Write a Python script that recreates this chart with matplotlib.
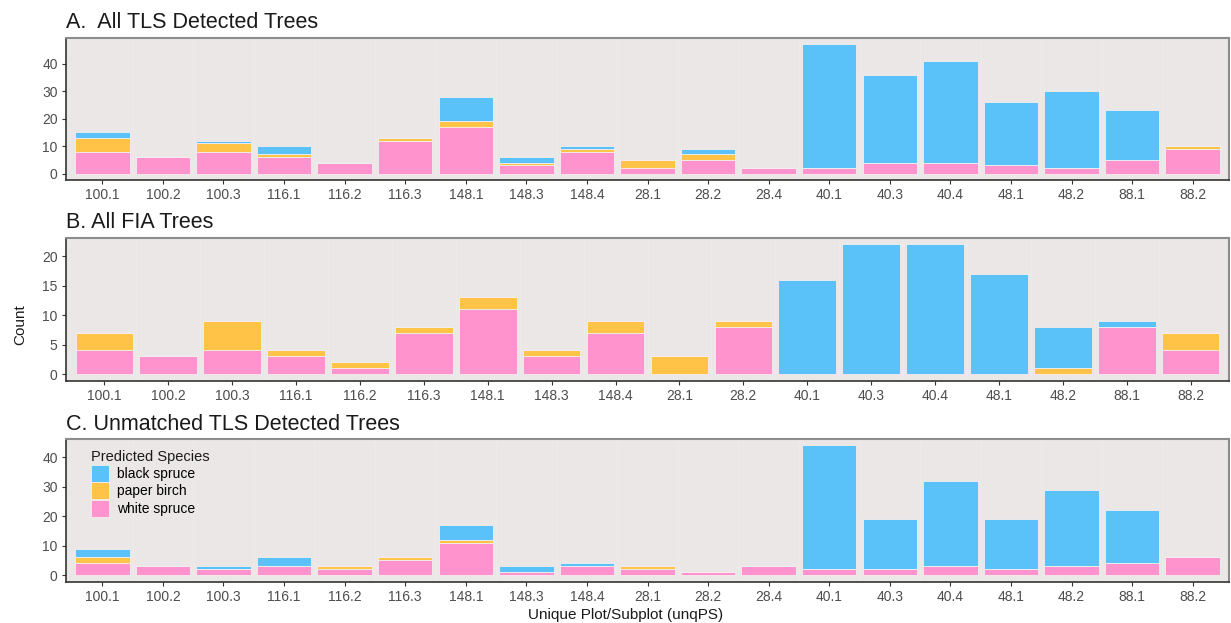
import matplotlib
matplotlib.use("Agg")
import matplotlib.pyplot as plt
import numpy as np
from matplotlib.patches import Patch

plt.rcParams["font.family"] = ["Liberation Sans", "DejaVu Sans"]

# plot/subplot ids
PLOTS_ALL = ["100.1", "100.2", "100.3", "116.1", "116.2", "116.3", "148.1", "148.3", "148.4",
             "28.1", "28.2", "28.4", "40.1", "40.3", "40.4", "48.1", "48.2", "88.1", "88.2"]
PLOTS_FIA = ["100.1", "100.2", "100.3", "116.1", "116.2", "116.3", "148.1", "148.3", "148.4",
             "28.1", "28.2", "40.1", "40.3", "40.4", "48.1", "48.2", "88.1", "88.2"]

# A. all TLS detected trees
tls_white = [8, 6, 8, 6, 4, 12, 17, 3, 8, 2, 5, 2, 2, 4, 4, 3, 2, 5, 9]
tls_birch = [5, 0, 3, 1, 0, 1, 2, 1, 1, 3, 2, 0, 0, 0, 0, 0, 0, 0, 1]
tls_black = [2, 0, 1, 3, 0, 0, 9, 2, 1, 0, 2, 0, 45, 32, 37, 23, 28, 18, 0]

# B. all FIA trees
fia_white = [4, 3, 4, 3, 1, 7, 11, 3, 7, 0, 8, 0, 0, 0, 0, 0, 8, 4]
fia_birch = [3, 0, 5, 1, 1, 1, 2, 1, 2, 3, 1, 0, 0, 0, 0, 1, 0, 3]
fia_black = [0, 0, 0, 0, 0, 0, 0, 0, 0, 0, 0, 16, 22, 22, 17, 7, 1, 0]

# C. unmatched TLS detected trees
unm_white = [4, 3, 2, 3, 2, 5, 11, 1, 3, 2, 1, 3, 2, 2, 3, 2, 3, 4, 6]
unm_birch = [2, 0, 0, 0, 1, 1, 1, 0, 0, 1, 0, 0, 0, 0, 0, 0, 0, 0, 0]
unm_black = [3, 0, 1, 3, 0, 0, 5, 2, 1, 0, 0, 0, 42, 17, 29, 17, 26, 18, 0]

SPECIES = ["black spruce", "paper birch", "white spruce"]
COLORS = {"black spruce": "#5BC1F9", "paper birch": "#FFC347", "white spruce": "#FF93CD"}
PANEL_BG = "#EBE7E6"

W, H = 1231, 623
fig = plt.figure(figsize=(W / 100, H / 100), dpi=100)


def px_axes(left, top, right, bottom):
    return fig.add_axes([left / W, 1 - bottom / H, (right - left) / W, (bottom - top) / H])


def draw_panel(ax, cats, white, birch, black, title, title_y):
    x = np.arange(len(cats))
    white = np.array(white)
    birch = np.array(birch)
    black = np.array(black)
    kw = dict(width=0.9, edgecolor="#F4EEEE", linewidth=0.6, zorder=3)
    ax.bar(x, white, color=COLORS["white spruce"], **kw)
    ax.bar(x, birch, bottom=white, color=COLORS["paper birch"], **kw)
    ax.bar(x, black, bottom=white + birch, color=COLORS["black spruce"], **kw)

    top = (white + birch + black).max()
    pad = top * 0.05
    ax.set_ylim(-pad, top + pad)
    ax.set_xlim(-0.6, len(cats) - 0.4)
    ax.set_facecolor(PANEL_BG)

    # very faint minor grid between categories
    for b in x[:-1] + 0.5:
        ax.axvline(b, color="#EEEBEA", linewidth=0.6, zorder=1)

    ax.set_xticks(x)
    ax.set_xticklabels(cats)
    ax.tick_params(axis="both", labelsize=10, labelcolor="#4D4D4D", color="#333333",
                   length=3, width=0.8, pad=3)
    for side in ("left", "bottom"):
        ax.spines[side].set_color("#333333")
        ax.spines[side].set_linewidth(1.2)
    for side in ("top", "right"):
        ax.spines[side].set_color("#8C8C8C")
        ax.spines[side].set_linewidth(1.5)

    fig.text(66 / W, 1 - title_y / H, title, fontsize=15.5, color="#1A1A1A",
             ha="left", va="baseline")
    return ax


ax_a = px_axes(66, 38, 1229, 180)
draw_panel(ax_a, PLOTS_ALL, tls_white, tls_birch, tls_black, "A.  All TLS Detected Trees", 27.5)
ax_a.set_yticks([0, 10, 20, 30, 40])

ax_b = px_axes(66, 238, 1229, 380.5)
draw_panel(ax_b, PLOTS_FIA, fia_white, fia_birch, fia_black, "B. All FIA Trees", 228.5)
ax_b.set_yticks([0, 5, 10, 15, 20])

ax_c = px_axes(66, 439, 1229, 581.5)
draw_panel(ax_c, PLOTS_ALL, unm_white, unm_birch, unm_black, "C. Unmatched TLS Detected Trees", 429.5)
ax_c.set_yticks([0, 10, 20, 30, 40])

handles = [Patch(facecolor=COLORS[s], edgecolor="#F4EEEE", linewidth=0.6, label=s) for s in SPECIES]
leg = ax_c.legend(handles=handles, title="Predicted Species", loc="upper left",
                  bbox_to_anchor=(0.012, 1.0), frameon=False, fontsize=10,
                  title_fontsize=10.5, handlelength=1.3, handleheight=1.5,
                  handletextpad=0.6, labelspacing=0.05, borderpad=0.3)
leg._legend_box.align = "left"
leg.get_title().set_color("#1A1A1A")

fig.text(20 / W, 1 - 325 / H, "Count", rotation=90, fontsize=11, color="#1A1A1A",
         ha="center", va="center")
fig.text(626 / W, 1 - 615 / H, "Unique Plot/Subplot (unqPS)", fontsize=11, color="#1A1A1A",
         ha="center", va="center")

fig.savefig("out.png", dpi=100, facecolor="white")
